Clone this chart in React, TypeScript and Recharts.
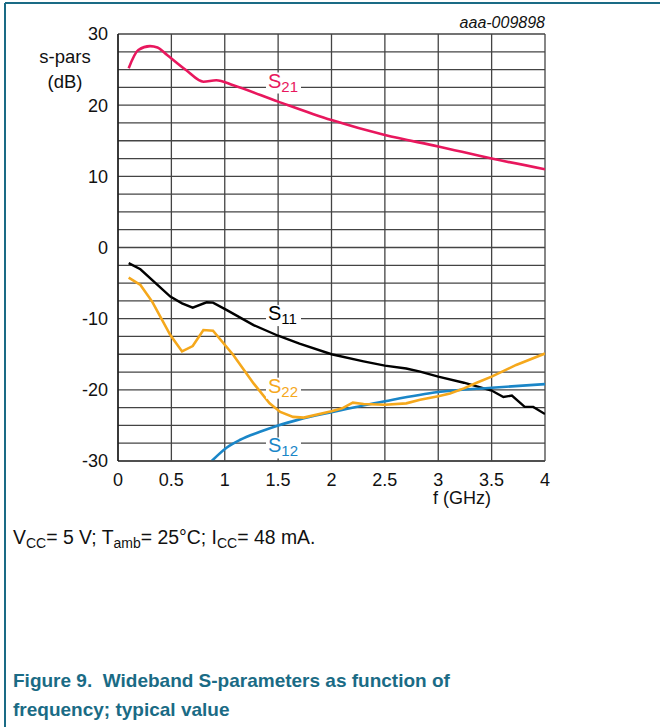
import React from "react";
import { LineChart, Line, XAxis, YAxis, CartesianGrid, ReferenceDot } from "recharts";

// S21 (dB) vs f (GHz)
const s21Freq = [0.1, 0.19, 0.3, 0.37, 0.46, 0.64, 0.8, 0.92, 1.08, 1.5, 2.0, 2.5, 3.0, 3.5, 4.0];
const s21Vals = [25.2, 27.75, 28.3, 28.1, 27.05, 24.9, 23.3, 23.5, 22.8, 20.5, 17.9, 15.8, 14.2, 12.5, 11.0];

// S11
const s11Freq = [0.1, 0.21, 0.49, 0.6, 0.7, 0.83, 0.89, 1.02, 1.27, 1.5, 1.7, 2.0, 2.3, 2.5, 2.7, 2.83, 3.0, 3.24, 3.5, 3.61, 3.69, 3.81, 3.89, 4.0];
const s11Vals = [-2.2, -3.06, -6.9, -7.85, -8.45, -7.7, -7.75, -8.8, -10.9, -12.4, -13.5, -15.0, -16.0, -16.6, -17.0, -17.45, -18.15, -19.0, -20.1, -21.0, -20.8, -22.4, -22.4, -23.4];

// S22
const s22Freq = [0.1, 0.21, 0.32, 0.49, 0.6, 0.7, 0.8, 0.89, 1.08, 1.27, 1.42, 1.52, 1.64, 1.74, 2.0, 2.1, 2.2, 2.3, 2.5, 2.7, 2.83, 3.0, 3.11, 3.24, 3.36, 3.5, 3.73, 4.0];
const s22Vals = [-4.24, -5.27, -7.6, -12.3, -14.6, -13.85, -11.6, -11.7, -15.1, -19.1, -21.9, -23.1, -23.8, -23.9, -23.0, -22.6, -21.8, -22.0, -22.1, -21.9, -21.4, -20.9, -20.5, -19.8, -19.0, -18.15, -16.5, -14.9];

// S12
const s12Freq = [0.878, 1.02, 1.14, 1.33, 1.5, 1.7, 2.0, 2.5, 3.0, 3.5, 4.0];
const s12Vals = [-30, -28.1, -27.05, -25.9, -25.0, -24.15, -23.15, -21.6, -20.3, -19.7, -19.2];

const xTicks = [0, 0.5, 1, 1.5, 2, 2.5, 3, 3.5, 4];
const yTicks = [-30, -27.5, -25, -22.5, -20, -17.5, -15, -12.5, -10, -7.5, -5, -2.5, 0, 2.5, 5, 7.5, 10, 12.5, 15, 17.5, 20, 22.5, 25, 27.5, 30];

const toRows = (fs: number[], vs: number[]) => fs.map((f, i) => ({ f, v: vs[i] }));

const FONT = "'Liberation Sans', Arial, sans-serif";
const C21 = "#e8175d";
const C11 = "#000000";
const C22 = "#f5a81c";
const C12 = "#1a86c8";
const TEAL = "#1a6b85";

const tag = (name: string, sub: string, color: string) => (p: any) => (
  <g>
    <rect x={p.cx - 2} y={p.cy - 15} width={35} height={21} fill="#ffffff" />
    <text x={p.cx} y={p.cy} fill={color} fontSize={20} fontFamily={FONT}>
      {name}
      <tspan fontSize={15} dy={4}>{sub}</tspan>
    </text>
  </g>
);

export default function App() {
  return (
    <div style={{ position: "absolute", left: 0, top: 0, width: 660, height: 727, background: "#fff", fontFamily: FONT }}>
      <div style={{ position: "absolute", left: 0, top: 0 }}>
        <LineChart width={660} height={520} margin={{ top: 34, right: 115, left: 58, bottom: 19 }}>
          <CartesianGrid stroke="#444" strokeWidth={1.3} />
          <XAxis
            dataKey="f"
            type="number"
            domain={[0, 4]}
            ticks={xTicks}
            height={40}
            tickLine={false}
            tickSize={0}
            tickMargin={12}
            axisLine={{ stroke: "#444", strokeWidth: 1.3 }}
            tick={{ fill: "#111", fontSize: 18, fontFamily: FONT }}
            allowDataOverflow
          />
          <YAxis
            type="number"
            domain={[-30, 30]}
            ticks={yTicks}
            interval={0}
            width={60}
            tickLine={false}
            tickSize={0}
            tickMargin={10}
            axisLine={{ stroke: "#111", strokeWidth: 1.3 }}
            tickFormatter={(v: number) => (v % 10 === 0 ? String(v) : "")}
            tick={{ fill: "#111", fontSize: 18, fontFamily: FONT }}
            allowDataOverflow
          />
          <Line data={toRows(s21Freq, s21Vals)} dataKey="v" type="monotone" stroke={C21} strokeWidth={2.6} dot={false} isAnimationActive={false} />
          <Line data={toRows(s11Freq, s11Vals)} dataKey="v" type="linear" stroke={C11} strokeWidth={2.4} dot={false} isAnimationActive={false} />
          <Line data={toRows(s12Freq, s12Vals)} dataKey="v" type="monotone" stroke={C12} strokeWidth={2.6} dot={false} isAnimationActive={false} />
          <Line data={toRows(s22Freq, s22Vals)} dataKey="v" type="linear" stroke={C22} strokeWidth={2.6} dot={false} isAnimationActive={false} />
          <ReferenceDot x={1.405} y={22.48} r={0} shape={tag("S", "21", C21)} />
          <ReferenceDot x={1.405} y={-10.2} r={0} shape={tag("S", "11", C11)} />
          <ReferenceDot x={1.405} y={-20.4} r={0} shape={tag("S", "22", C22)} />
          <ReferenceDot x={1.405} y={-28.8} r={0} shape={tag("S", "12", C12)} />
        </LineChart>
      </div>
      <svg width={660} height={727} style={{ position: "absolute", left: 0, top: 0, pointerEvents: "none" }}>
        <line x1={5} y1={3} x2={660} y2={3} stroke={TEAL} strokeWidth={2} />
        <line x1={5} y1={3} x2={5} y2={727} stroke={TEAL} strokeWidth={2} />
        <text x={545} y={28} textAnchor="end" fontStyle="italic" fontSize={16} fill="#111" fontFamily={FONT}>aaa-009898</text>
        <text x={65} y={63} textAnchor="middle" fontSize={18.5} fill="#111" fontFamily={FONT}>s-pars</text>
        <text x={65} y={88} textAnchor="middle" fontSize={18.5} fill="#111" fontFamily={FONT}>(dB)</text>
        <text x={462} y={504} textAnchor="middle" fontSize={18} fill="#111" fontFamily={FONT}>f (GHz)</text>
        <text x={13} y={544} fontSize={19.4} fill="#111" fontFamily={FONT}>
          V<tspan fontSize={14} dy={4}>CC</tspan>
          <tspan dy={-4}>= 5 V; T</tspan>
          <tspan fontSize={14} dy={4}>amb</tspan>
          <tspan dy={-4}>= 25°C; I</tspan>
          <tspan fontSize={14} dy={4}>CC</tspan>
          <tspan dy={-4}>= 48 mA.</tspan>
        </text>
        <text x={13} y={687} fontSize={19} fontWeight="bold" fill={TEAL} fontFamily={FONT} style={{ whiteSpace: "pre" }}>
          Figure 9.  Wideband S-parameters as function of
        </text>
        <text x={13} y={716} fontSize={19} fontWeight="bold" fill={TEAL} fontFamily={FONT}>
          frequency; typical value
        </text>
      </svg>
    </div>
  );
}
